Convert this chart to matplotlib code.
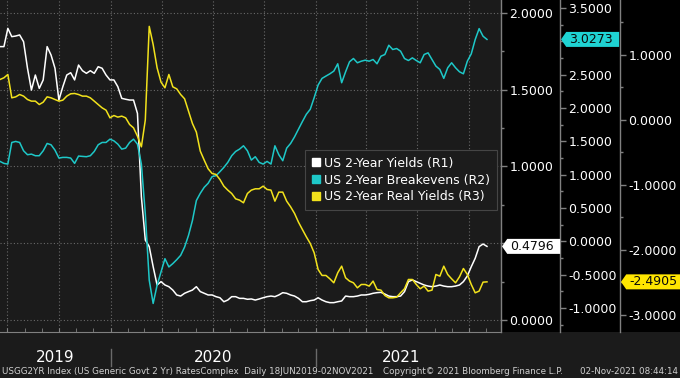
import matplotlib
matplotlib.use("Agg")
import matplotlib.pyplot as plt
import matplotlib.dates as mdates
from matplotlib.ticker import MultipleLocator, FuncFormatter, NullFormatter
from matplotlib.lines import Line2D
from matplotlib.patches import Rectangle
from matplotlib.path import Path
import matplotlib.transforms as mtrans
import pandas as pd

# weekly closes, 18JUN2019 - 02NOV2021
start_date = "2019-06-18"

yields_2y = [
    1.781, 1.781, 1.900, 1.846, 1.850, 1.857, 1.813, 1.640, 1.498, 1.596,
    1.509, 1.564, 1.781, 1.726, 1.640, 1.433, 1.520, 1.596, 1.611, 1.564,
    1.661, 1.624, 1.607, 1.624, 1.607, 1.650, 1.640, 1.596, 1.564, 1.564,
    1.520, 1.444, 1.438, 1.433, 1.433, 1.346, 0.803, 0.521, 0.478, 0.347,
    0.228, 0.250, 0.228, 0.217, 0.195, 0.163, 0.156, 0.174, 0.185, 0.195,
    0.217, 0.185, 0.174, 0.163, 0.163, 0.152, 0.145, 0.119, 0.130, 0.152,
    0.152, 0.141, 0.141, 0.135, 0.137, 0.130, 0.137, 0.145, 0.152, 0.156,
    0.152, 0.163, 0.178, 0.174, 0.163, 0.156, 0.141, 0.119, 0.119, 0.126,
    0.130, 0.145, 0.130, 0.119, 0.113, 0.113, 0.119, 0.124, 0.156, 0.152,
    0.152, 0.156, 0.163, 0.163, 0.167, 0.174, 0.178, 0.180, 0.169, 0.156,
    0.152, 0.152, 0.156, 0.185, 0.250, 0.261, 0.250, 0.239, 0.228, 0.221,
    0.217, 0.221, 0.228, 0.221, 0.217, 0.217, 0.221, 0.228, 0.250, 0.287,
    0.347, 0.402, 0.478, 0.495, 0.4796,
]

breakevens_2y = [
    1.199, 1.169, 1.159, 1.483, 1.498, 1.483, 1.358, 1.299, 1.308, 1.284,
    1.284, 1.358, 1.468, 1.448, 1.368, 1.249, 1.259, 1.259, 1.249, 1.169,
    1.279, 1.274, 1.269, 1.284, 1.348, 1.448, 1.483, 1.483, 1.532, 1.507,
    1.458, 1.383, 1.398, 1.483, 1.532, 1.458, 1.159, 0.413, -0.582, -0.930,
    -0.657, -0.458, -0.259, -0.383, -0.333, -0.274, -0.209, -0.085, 0.090, 0.313,
    0.612, 0.721, 0.811, 0.871, 0.970, 0.985, 1.045, 1.109, 1.184, 1.284,
    1.348, 1.383, 1.433, 1.358, 1.219, 1.269, 1.184, 1.159, 1.199, 1.159,
    1.433, 1.299, 1.209, 1.398, 1.468, 1.567, 1.682, 1.796, 1.905, 1.980,
    2.154, 2.343, 2.443, 2.478, 2.512, 2.552, 2.662, 2.378, 2.542, 2.692,
    2.741, 2.677, 2.701, 2.716, 2.701, 2.726, 2.662, 2.776, 2.801, 2.940,
    2.876, 2.891, 2.851, 2.741, 2.711, 2.751, 2.711, 2.677, 2.801, 2.826,
    2.726, 2.627, 2.577, 2.443, 2.602, 2.677, 2.602, 2.542, 2.512, 2.701,
    2.811, 3.025, 3.189, 3.075, 3.0273,
]

real_yields_2y = [
    0.623, 0.649, 0.700, 0.341, 0.356, 0.392, 0.367, 0.315, 0.290, 0.290,
    0.238, 0.274, 0.356, 0.341, 0.315, 0.290, 0.305, 0.367, 0.403, 0.408,
    0.392, 0.367, 0.367, 0.341, 0.290, 0.238, 0.187, 0.151, 0.033, 0.069,
    0.044, 0.059, 0.033, -0.069, -0.121, -0.249, -0.413, 0.000, 1.440, 1.160,
    0.803, 0.582, 0.495, 0.700, 0.510, 0.479, 0.392, 0.326, 0.136, -0.054,
    -0.187, -0.479, -0.618, -0.751, -0.823, -0.838, -0.915, -1.018, -1.079, -1.131,
    -1.213, -1.233, -1.274, -1.131, -1.079, -1.059, -1.059, -1.018, -1.069, -1.079,
    -1.249, -1.110, -1.110, -1.249, -1.336, -1.438, -1.572, -1.685, -1.797, -1.900,
    -2.044, -2.300, -2.392, -2.392, -2.444, -2.505, -2.351, -2.249, -2.428, -2.479,
    -2.505, -2.582, -2.531, -2.531, -2.556, -2.479, -2.608, -2.618, -2.700, -2.736,
    -2.736, -2.726, -2.659, -2.597, -2.454, -2.454, -2.531, -2.597, -2.556, -2.633,
    -2.618, -2.377, -2.403, -2.249, -2.377, -2.444, -2.505, -2.413, -2.285, -2.377,
    -2.531, -2.659, -2.633, -2.495, -2.4905,
]

labels = ["US 2-Year Yields (R1)", "US 2-Year Breakevens (R2)", "US 2-Year Real Yields (R3)"]
colores = ["#ffffff", "#1ec8c8", "#f2e21c"]
tag_colores = ["#ffffff", "#1fd3d3", "#ffe600"]
years = [2019, 2020, 2021]

dates = pd.date_range(start_date, periods=len(yields_2y), freq="7D")
series = [yields_2y, breakevens_2y, real_yields_2y]

plt.rcParams["font.family"] = "DejaVu Sans"
plt.rcParams["axes.unicode_minus"] = False

BG = "#1b1b1b"
GRIS = "#808080"

fig = plt.figure(figsize=(6.8, 3.78), dpi=100, facecolor=BG)
W, H = 680.0, 378.0
ax = fig.add_axes([0, 46 / H, 501 / W, 332 / H])
ax.set_facecolor(BG)
# panel negro detras de los ejes derechos
fig.add_artist(Rectangle((501 / W, 46 / H), 179 / W, 332 / H, transform=fig.transFigure,
                         facecolor="black", edgecolor="none", zorder=-5))

ax2 = ax.twinx()
ax3 = ax.twinx()
ejes = [ax, ax2, ax3]
spine_pos = [1.0, 560 / 501, 620 / 501]
ylims = [(-0.0782, 2.0847), (-1.358, 3.618), (-3.262, 1.846)]
majors = [0.5, 0.5, 1.0]
minors = [0.25, 0.25, 0.5]


def make_fmt(ultimo, paso):
    # la etiqueta que queda tapada por la del ultimo valor no se escribe
    def f(v, pos):
        if abs(v - ultimo) < 0.3 * paso:
            return ""
        return f"{v:.4f}"
    return FuncFormatter(f)


for a, pos, yl, mj, mn, vals in zip(ejes, spine_pos, ylims, majors, minors, series):
    for s in ["top", "left", "bottom"]:
        a.spines[s].set_visible(False)
    a.spines["right"].set_position(("axes", pos))
    a.spines["right"].set_color(GRIS)
    a.spines["right"].set_linewidth(1.0)
    a.yaxis.tick_right()
    a.set_ylim(*yl)
    a.yaxis.set_major_locator(MultipleLocator(mj))
    a.yaxis.set_minor_locator(MultipleLocator(mn))
    a.yaxis.set_major_formatter(make_fmt(vals[-1], mj))
    a.tick_params(axis="y", which="major", direction="out", length=4, width=1,
                  color=GRIS, labelcolor="white", labelsize=9, pad=2)
    a.tick_params(axis="y", which="minor", direction="out", length=2, width=1, color=GRIS)

ax.spines["bottom"].set_visible(True)
ax.spines["bottom"].set_color(GRIS)

x0 = pd.Timestamp(start_date)
ax.set_xlim(x0, x0 + pd.Timedelta(days=893))
ax.set_xticks(pd.date_range("2019-07-01", "2021-10-01", freq="QS"))
ax.xaxis.set_minor_locator(mdates.MonthLocator())
ax.xaxis.set_major_formatter(NullFormatter())
ax.tick_params(axis="x", which="both", direction="in", length=3, color=GRIS, labelbottom=False)
ax.grid(True, which="major", axis="both", linestyle=(0, (1, 2)), color="#6a6a6a", linewidth=0.8)

for a, vals, c in zip(ejes, series, colores):
    a.plot(dates, vals, color=c, linewidth=1.1)


# etiquetas del ultimo valor
def tag_box(x0, y0, width, height, mutation_size):
    p = 0.22 * mutation_size
    tip = 0.42 * mutation_size
    left = x0 - p - tip
    right = x0 + width + p + 0.3 * mutation_size
    bot = y0 - 0.08 * mutation_size
    top = y0 + height + 0.08 * mutation_size
    mid = (bot + top) / 2
    return Path([(left, mid), (left + tip, top), (right, top), (right, bot),
                 (left + tip, bot), (left, mid)], closed=True)


fs_px = 9 * 100 / 72.0
for a, pos, vals, c in zip(ejes, spine_pos, series, tag_colores):
    ultimo = vals[-1]
    ax3.annotate(f"{ultimo:.4f}", xy=(pos, ultimo), xycoords=(ax.transAxes, a.transData),
                 xytext=(0.64 * fs_px + 1, 0), textcoords="offset pixels",
                 ha="left", va="center", fontsize=9, color="#0a0a0a",
                 bbox=dict(boxstyle=tag_box, facecolor=c, edgecolor="none"),
                 annotation_clip=False, zorder=10)

handles = [Line2D([], [], marker="s", linestyle="none", color=c, markersize=6) for c in colores]
leg = ax3.legend(handles, labels, loc="upper left", bbox_to_anchor=(305 / 501, 182 / 332),
                 borderaxespad=0, fontsize=9, frameon=True, fancybox=False,
                 facecolor="#1c1c1c", edgecolor="#454545", framealpha=1,
                 handlelength=0.7, handletextpad=0.25, labelspacing=0.3, borderpad=0.55)
for t in leg.get_texts():
    t.set_color("white")
leg.get_frame().set_linewidth(0.8)

# años y separadores bajo el eje
trans = mtrans.blended_transform_factory(ax.transData, ax.transAxes)
fin = dates[-1]
for yr in years:
    a_ini = max(pd.Timestamp(f"{yr}-01-01"), dates[0])
    a_fin = min(pd.Timestamp(f"{yr + 1}-01-01"), fin)
    centro = a_ini + (a_fin - a_ini) / 2
    ax.text(centro, -25 / 332, str(yr), transform=trans, ha="center", va="center",
            fontsize=11, color="white")
    if yr > years[0]:
        ax.axvline(pd.Timestamp(f"{yr}-01-01"), ymin=-34 / 332, ymax=-17 / 332,
                   color="#6a6a6a", linewidth=1, clip_on=False)

pie_y = 1 - 372 / H
fig.text(2 / W, pie_y, "USGG2YR Index (US Generic Govt 2 Yr) RatesComplex  Daily 18JUN2019-02NOV2021",
         fontsize=6.3, color="#d0d0d0", va="center", ha="left")
fig.text(383 / W, pie_y, "Copyright\u00a9 2021 Bloomberg Finance L.P.",
         fontsize=6.3, color="#d0d0d0", va="center", ha="left")
fig.text(678 / W, pie_y, "02-Nov-2021 08:44:14",
         fontsize=6.3, color="#d0d0d0", va="center", ha="right")

fig.savefig("out.png", dpi=100, facecolor=fig.get_facecolor())
